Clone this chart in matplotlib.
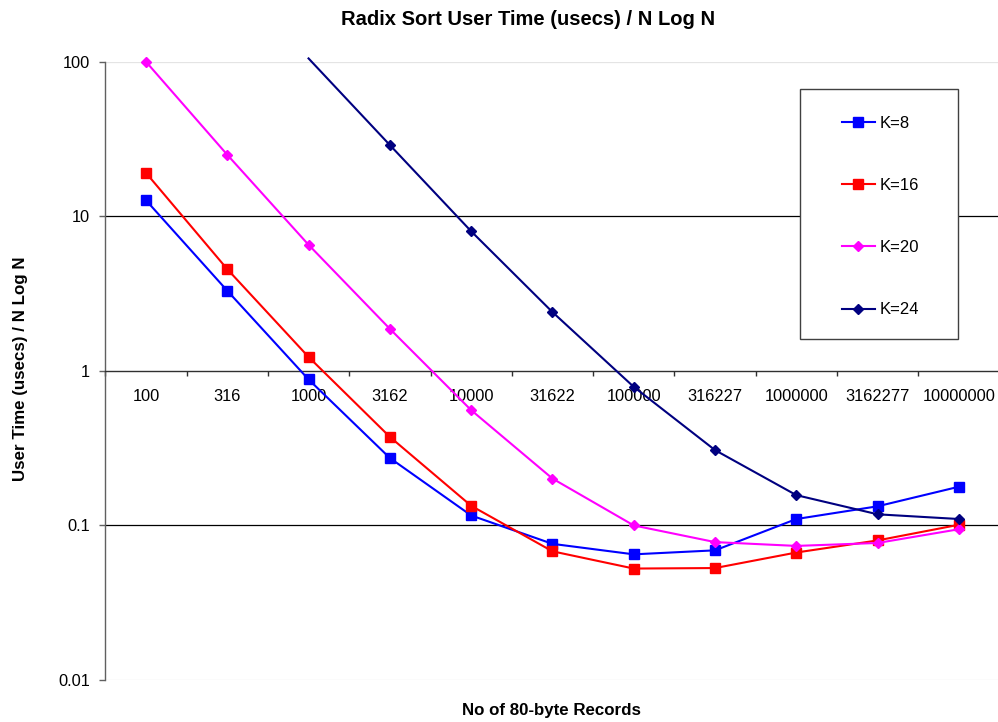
import numpy as np
import matplotlib
matplotlib.use("Agg")
import matplotlib.pyplot as plt
from matplotlib.patches import Rectangle
from matplotlib.transforms import Bbox, TransformedBbox
from matplotlib.ticker import FixedLocator, FixedFormatter, NullLocator

# Record counts (categories along the x axis)
records = ["100", "316", "1000", "3162", "10000", "31622", "100000",
           "316227", "1000000", "3162277", "10000000"]

# User time (usecs) / N log N for each radix width K
k8 = [12.7, 3.3, 0.88, 0.273, 0.116, 0.076, 0.065, 0.069, 0.110, 0.133, 0.178]
k16 = [19.1, 4.55, 1.23, 0.374, 0.134, 0.068, 0.0526, 0.053, 0.0668, 0.080, 0.101]
k20 = [100.0, 25.0, 6.54, 1.87, 0.557, 0.201, 0.100, 0.078, 0.0737, 0.077, 0.0945]
k24 = [np.nan, np.nan, 105.0, 28.9, 8.0, 2.4, 0.788, 0.307, 0.157, 0.118, 0.110]

y_ticks = [0.01, 0.1, 1, 10, 100]
y_tick_labels = ["0.01", "0.1", "1", "10", "100"]

plt.rcParams["font.family"] = ["Liberation Sans", "DejaVu Sans"]

W, H = 998, 722
fig = plt.figure(figsize=(W / 100, H / 100), dpi=100)

# plot area in pixels
left_px, right_px = 105.3, 999.6
top_px, bottom_px = 61.7, 680.0
ax = fig.add_axes([left_px / W, 1 - bottom_px / H,
                   (right_px - left_px) / W, (bottom_px - top_px) / H])

ax.set_yscale("log")
ax.set_ylim(0.01, 100)
x = np.arange(len(records))
ax.set_xlim(-0.5, len(records) - 0.5)

# horizontal gridlines
for v, c in [(10, "black"), (0.1, "black"), (100, "#e4e4e4"), (0.01, "#e4e4e4")]:
    ax.axhline(v, color=c, lw=0.9, zorder=1)

series = [
    ("K=8", k8, "#0000FF", "s", 6.8),
    ("K=16", k16, "#FF0000", "s", 6.8),
    ("K=20", k20, "#FF00FF", "D", 5.6),
    ("K=24", k24, "#000080", "D", 5.0),
]

clip = TransformedBbox(Bbox([[0, 0], [1, 1.009]]), ax.transAxes)
handles = []
for label, vals, col, mk, ms in series:
    vals = np.asarray(vals, dtype=float)
    shown = [i for i, v in enumerate(vals) if np.isfinite(v) and v <= 100]
    ln, = ax.plot(x, vals, color=col, lw=1.5, marker=mk, ms=ms,
                  markevery=shown, label=label, zorder=3)
    ln.set_clip_box(clip)
    handles.append(ln)

# axes styling
for s in ["top", "right"]:
    ax.spines[s].set_visible(False)
ax.spines["left"].set_color("#606060")
ax.spines["left"].set_linewidth(1.0)
ax.spines["bottom"].set_position(("data", 1))
ax.spines["bottom"].set_color("#303030")
ax.spines["bottom"].set_linewidth(1.0)

ax.yaxis.set_major_locator(FixedLocator(y_ticks))
ax.yaxis.set_major_formatter(FixedFormatter(y_tick_labels))
ax.yaxis.set_minor_locator(NullLocator())
ax.tick_params(axis="y", which="major", direction="out", length=4.3, width=1.0,
               color="#606060", pad=6.7, labelsize=11.8, labelcolor="black")

ax.xaxis.set_major_locator(FixedLocator(np.arange(-0.5, len(records), 1.0)))
ax.xaxis.set_major_formatter(FixedFormatter([""] * (len(records) + 1)))
ax.xaxis.set_minor_locator(FixedLocator(x))
ax.xaxis.set_minor_formatter(FixedFormatter(records))
ax.tick_params(axis="x", which="major", direction="out", length=3.5, width=1.0,
               color="#303030")
ax.tick_params(axis="x", which="minor", length=0, pad=13.2, labelsize=11.8)

# titles
fig.text(528.4 / W, 1 - 25 / H, "Radix Sort User Time (usecs) / N Log N",
         ha="center", va="baseline", fontsize=14.5, fontweight="bold")
fig.text(552 / W, 1 - 715 / H, "No of 80-byte Records",
         ha="center", va="baseline", fontsize=12.2, fontweight="bold")
fig.text(20.5 / W, 1 - 368.3 / H, "User Time (usecs) / N Log N",
         ha="center", va="center", rotation=90, fontsize=12.2, fontweight="bold")

# legend box
fig.patches.append(Rectangle((800 / W, 1 - 339.3 / H), 158.3 / W, 250 / H,
                             transform=fig.transFigure, facecolor="white",
                             edgecolor="#404040", lw=1.0, zorder=4))
leg = fig.legend(handles=handles, loc="center",
                 bbox_to_anchor=(880.5 / W, 1 - 216.6 / H), frameon=False,
                 fontsize=12, handlelength=2.0, handletextpad=0.3,
                 labelspacing=2.83, borderpad=0)
leg.set_zorder(5)

fig.savefig("out.png", dpi=100)
